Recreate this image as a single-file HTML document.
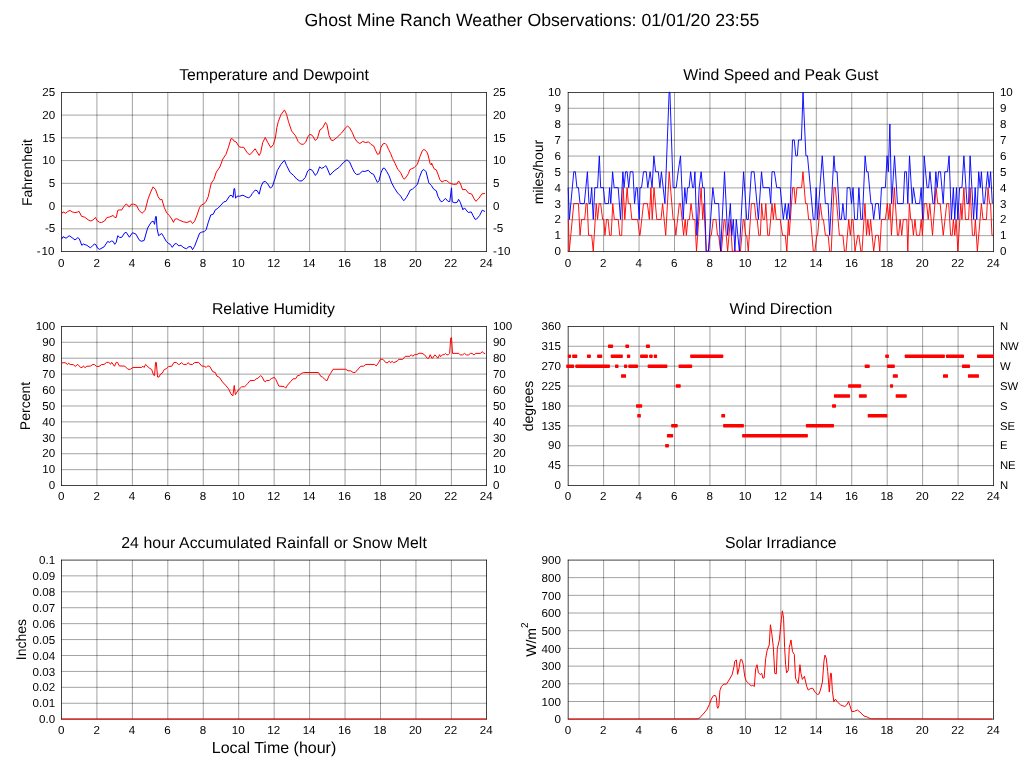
<!DOCTYPE html>
<html><head><meta charset="utf-8"><title>Ghost Mine Ranch Weather Observations</title>
<style>html,body{margin:0;padding:0;background:#fff}body{width:1027px;height:772px;overflow:hidden;font-family:"Liberation Sans", sans-serif}svg{display:block;will-change:transform}</style></head>
<body>
<svg width="1027" height="772" viewBox="0 0 1027 772" font-family='"Liberation Sans", sans-serif' fill="#000" text-rendering="geometricPrecision">
<rect width="1027" height="772" fill="#fff"/>
<text x="532" y="25.8" font-size="17.7" text-anchor="middle">Ghost Mine Ranch Weather Observations: 01/01/20 23:55</text>
<path d="M96.91 92.5V251.5M132.36 92.5V251.5M167.8 92.5V251.5M203.25 92.5V251.5M238.7 92.5V251.5M274.15 92.5V251.5M309.6 92.5V251.5M345.04 92.5V251.5M380.49 92.5V251.5M415.94 92.5V251.5M451.39 92.5V251.5M61.5 228.84H486.5M61.5 206.09H486.5M61.5 183.34H486.5M61.5 160.6H486.5M61.5 137.85H486.5M61.5 115.1H486.5" stroke="#000" stroke-width="0.37" fill="none"/>
<path d="M61.13 92.5H486.87M61.13 251.5H486.87M61.5 92.13V251.87M486.5 92.13V251.87" stroke="#000" stroke-width="0.74" fill="none"/>
<path d="M61.54 213.92L63.06 211.9L65.59 213.22L67.62 211.59L69.95 210.38L72.18 211.9L74.71 212.61L77.24 212.2L79.06 211.39L81.49 216.25L84.84 217.27L88.38 220L90.91 221.01L92.94 220L95.47 217.47L96.99 220.51L99.52 222.33L101.54 222.53L104.58 221.01L106.81 217.67L109.65 216.96L113.19 215.44L114.71 217.47L116.23 217.47L117.75 210.38L119.77 209.87L121.59 210.08L123.82 206.53L126.35 203.8L129.39 207.14L130.91 204.51L133.44 204.1L136.48 205.32L139.01 210.38L142.05 213.22L145.09 210.38L148.13 198.73L150.66 192.15L153.04 186.89L155.57 189.62L158.1 196.71L160.13 199.75L161.95 199.44L164.18 207.34L166.71 212.91L169.24 215.44L171.77 218.99L173.49 222.33L174.81 219.29L176.84 218.68L179.37 220.2L183.42 221.82L186.96 222.53L190.51 220.81L192.53 223.54L194.56 221.32L197.09 214.94L199.62 207.34L201.65 204.81L203.67 204.1L206.2 201.27L208.23 196.71L209.75 189.62L211.27 183.16L213.8 179.62L216.33 172.03L219.87 166.96L222.91 158.86L225.95 154.3L228.48 147.22L231.01 138.61L232.53 138.91L234.05 141.14L236.08 141.95L239.11 146.71L241.65 147.42L243.67 147.22L247.22 152.78L249.24 154.51L250.56 154.18L255.11 148.81L259.16 155.49L260.68 152.66L262.71 142.53L265.24 137.47L267.77 142.53L270.81 147.59L273.34 144.56L275.37 137.97L276.89 127.34L278.41 121.27L280.94 114.68L284.48 109.92L286.51 114.18L288.53 121.77L291.57 130.89L295.62 135.95L298.15 141.52L300.68 144.05L303.22 144.35L305.75 142.03L307.77 136.96L309.8 134.23L312.33 135.44L315.37 140.51L317.39 138.48L319.92 129.87L322.46 128.15L325.49 122.48L327.01 124.81L329.04 135.44L331.06 140L333.09 140.51L337.14 137.27L341.7 132.91L345.75 127.54L347.57 126.14L349.59 127.66L352.13 132.22L354.66 138.29L357.19 141.84L359.72 143.56L362.76 141.53L365.8 142.54L368.53 141.84L370.86 144.37L373.59 145.89L375.42 149.94L377.44 154.29L379.27 153.78L380.99 147.41L383.01 143.86L385.04 143.35L386.56 144.87L388.58 149.43L390.61 153.48L392.63 158.54L395.16 163.61L397.7 169.18L400.73 172.72L402.76 177.28L404.28 179.3L406.3 176.97L408.33 173.73L409.85 169.68L411.87 168.67L414.41 167.46L417.44 164.11L419.97 156.52L422.51 150.44L424.03 149.43L426.56 151.46L428.08 155L430.1 163.61L431.39 165L431.62 163.1L434.05 168.8L436.33 169.94L438.23 174.87L439.75 179.43L442.03 182.09L444.3 180.57L446.58 180.57L449.62 183.08L453.42 184.37L456.84 184.14L458.58 180.95L460.25 183.23L462.53 189.68L465.57 189.46L468.61 193.25L471.65 194.01L473.92 198.42L475.82 201.3L478.86 198.42L481.9 193.86L484.94 193.48" stroke="#ff0000" stroke-width="1.0" fill="none" stroke-linejoin="miter" stroke-miterlimit="6"/>
<path d="M61.54 239.24L63.06 236.71L66.1 238.23L69.14 235.7L72.18 237.72L75.01 239.95L77.75 237.72L79.27 238.73L81.8 245.32L83.32 244L86.86 245.32L90.41 247.85L92.94 245.32L94.46 244.1L95.97 244.81L97.49 248.05L99.52 249.37L104.08 246.84L107.62 241.47L109.65 242.28L111.67 240.96L113.19 241.47L114.71 244.3L116.23 242.28L117.75 235.7L119.77 237.52L121.8 237.22L124.84 232.66L126.35 232.46L129.39 237.22L132.43 232.66L135.97 234.18L139.01 239.75L141.04 241.27L144.08 240.56L147.62 228.1L150 224.05L152.03 221.32L153.54 221.52L154.56 224.35L155.57 216.66L156.28 216.46L157.09 228.61L158.61 235.7L161.65 233.47L163.67 236.71L166.2 241.27L168.23 243.29L170.25 244.3L172.28 247.34L174.81 243.8L176.33 243.59L178.86 245.82L180.89 245.32L183.92 247.85L186.46 248.66L188.99 246.63L191.01 246.63L192.53 249.67L194.56 246.33L197.09 239.75L199.62 233.16L201.65 232.15L204.18 231.65L206.2 229.62L208.23 222.53L210.76 214.94L213.29 214.23L215.32 209.87L217.85 208.35L220.89 205.11L223.92 201.77L225.95 201.47L230 195.39L232.03 195.7L233.04 197.42L234.05 188.61L234.66 188.61L235.57 198.23L237.09 196.2L239.62 196.2L242.96 195.19L246.2 197.01L248.73 197.72L250.76 196.2L252.08 193.67L255.11 190.13L257.14 190.63L259.16 194.18L261.19 186.08L263.22 182.03L265.24 181.32L267.77 184.05L270.3 188.1L272.33 186.58L274.86 178.99L277.39 170.38L280.94 164.3L284.48 160.25L286.51 165.32L290.05 172.41L293.59 175.44L296.63 178.99L299.67 181.01L302.2 180.81L305.24 177.47L307.77 170.89L309.8 169.16L312.33 170.38L315.37 175.44L317.39 172.91L319.62 166.84L321.44 168.35L323.97 167.34L325.7 165.62L327.01 167.85L330.05 175.14L334.1 170.89L339.16 167.34L343.22 162.78L346.25 160.25L347.06 159.92L349.59 161.95L352.13 167.72L354.66 172.78L356.68 174.51L359.22 174.1L362.25 171.27L364.78 171.47L368.33 170.25L370.86 173.09L373.59 174.3L375.42 178.35L377.44 182.41L378.96 180.89L380.99 172.78L383.01 168.23L384.53 168.23L386.56 171.27L389.09 175.82L391.62 182.91L394.66 188.48L397.7 193.04L400.73 196.08L402.76 199.62L403.97 200.63L406.3 197.59L408.33 194.05L410.35 190L412.38 189.29L415.42 186.25L417.44 184.43L419.47 177.34L422 170.76L423.82 169.44L426.05 171.77L428.58 181.9L428.73 182.85L431.39 185.51L433.67 189.15L436.33 190.82L437.85 196.14L440.51 201.08L442.03 201.84L445.44 198.42L448.1 201.46L449.77 201.46L451.52 187.78L452.28 201.84L454.94 202.82L457.22 202.22L458.58 199.33L460.25 202.22L462.91 209.81L464.43 207.91L468.23 212.47L471.27 211.94L472.78 215.13L475.06 219.3L476.58 219.08L479.62 215.51L482.28 210.19L484.94 211.48" stroke="#0000ff" stroke-width="1.0" fill="none" stroke-linejoin="miter" stroke-miterlimit="6"/>
<text x="274" y="79.9" font-size="15.8" text-anchor="middle">Temperature and Dewpoint</text>
<text x="61.2" y="266.7" font-size="11.6" text-anchor="middle">0</text>
<text x="96.62" y="266.7" font-size="11.6" text-anchor="middle">2</text>
<text x="132.03" y="266.7" font-size="11.6" text-anchor="middle">4</text>
<text x="167.45" y="266.7" font-size="11.6" text-anchor="middle">6</text>
<text x="202.87" y="266.7" font-size="11.6" text-anchor="middle">8</text>
<text x="238.28" y="266.7" font-size="11.6" text-anchor="middle">10</text>
<text x="273.7" y="266.7" font-size="11.6" text-anchor="middle">12</text>
<text x="309.12" y="266.7" font-size="11.6" text-anchor="middle">14</text>
<text x="344.53" y="266.7" font-size="11.6" text-anchor="middle">16</text>
<text x="379.95" y="266.7" font-size="11.6" text-anchor="middle">18</text>
<text x="415.37" y="266.7" font-size="11.6" text-anchor="middle">20</text>
<text x="450.78" y="266.7" font-size="11.6" text-anchor="middle">22</text>
<text x="486.2" y="266.7" font-size="11.6" text-anchor="middle">24</text>
<text x="55.2" y="255.2" font-size="11.6" text-anchor="end"><tspan dx="-0.8">-</tspan><tspan dx="0.8">10</tspan></text>
<text x="55.2" y="232.49" font-size="11.6" text-anchor="end">-5</text>
<text x="55.2" y="209.77" font-size="11.6" text-anchor="end">0</text>
<text x="55.2" y="187.06" font-size="11.6" text-anchor="end">5</text>
<text x="55.2" y="164.34" font-size="11.6" text-anchor="end">10</text>
<text x="55.2" y="141.63" font-size="11.6" text-anchor="end">15</text>
<text x="55.2" y="118.91" font-size="11.6" text-anchor="end">20</text>
<text x="55.2" y="96.2" font-size="11.6" text-anchor="end">25</text>
<text x="492.9" y="255.2" font-size="11.6">-<tspan dx="0.8">10</tspan></text>
<text x="492.9" y="232.49" font-size="11.6">-5</text>
<text x="492.9" y="209.77" font-size="11.6">0</text>
<text x="492.9" y="187.06" font-size="11.6">5</text>
<text x="492.9" y="164.34" font-size="11.6">10</text>
<text x="492.9" y="141.63" font-size="11.6">15</text>
<text x="492.9" y="118.91" font-size="11.6">20</text>
<text x="492.9" y="96.2" font-size="11.6">25</text>
<text transform="translate(31.7 172.6) rotate(-90)" font-size="14.0" text-anchor="middle">Fahrenheit</text>
<path d="M603.61 92.5V251.5M639.06 92.5V251.5M674.5 92.5V251.5M709.95 92.5V251.5M745.4 92.5V251.5M780.85 92.5V251.5M816.3 92.5V251.5M851.74 92.5V251.5M887.19 92.5V251.5M922.64 92.5V251.5M958.09 92.5V251.5M568.2 235.67H993.5M568.2 219.74H993.5M568.2 203.82H993.5M568.2 187.89H993.5M568.2 171.97H993.5M568.2 156.05H993.5M568.2 140.12H993.5M568.2 124.2H993.5M568.2 108.27H993.5" stroke="#000" stroke-width="0.37" fill="none"/>
<path d="M567.83 92.5H993.87M567.83 251.5H993.87M568.2 92.13V251.87M993.5 92.13V251.87" stroke="#000" stroke-width="0.74" fill="none"/>
<path d="M568.34 219.45L569.27 251.25L573.79 203.55L578.46 203.55L580.02 235.35L581.58 219.45L584.7 219.45L586.1 203.55L587.19 203.55L588.59 235.35L591.71 235.35L593.26 251.25L596.22 203.55L597.55 219.45L599.11 203.55L600.66 203.55L602.61 219.45L603.78 219.45L604.95 235.35L606.51 219.45L608.06 219.45L609.62 235.35L611.18 235.35L612.74 203.55L614.3 219.45L618.19 219.45L619.75 235.35L621.7 235.35L623.25 187.65L624.81 219.45L627.15 187.65L628.32 203.55L630.26 203.55L631.82 219.45L637.67 219.45L639.61 235.35L640 235.35L643.51 203.55L647.4 203.55L649.35 219.45L650.91 187.65L652.23 219.45L654.02 187.65L656.75 219.45L661.03 219.45L662.59 203.55L665.71 235.35L669.21 171.75L673.11 219.45L674.27 219.45L675.83 235.35L679.34 203.55L680.51 203.55L683.62 235.35L685.18 219.45L686.35 235.35L687.91 219.45L689.46 219.45L691.02 203.55L692.97 219.45L694.92 219.45L696.48 251.25L701.15 187.65L702.71 219.45L703.88 203.55L706.21 251.25L708.55 251.25L710.11 235.35L711.28 235.35L713.22 219.45L715.95 219.45L717.51 235.35L718.67 235.35L720.62 251.25L721.4 251.25L724.13 219.45L724.91 219.45L727.63 251.25L730.36 219.45L732.31 251.25L740.48 251.25L743.21 219.45L743.99 219.45L745.55 235.35L746.72 235.35L748.27 251.25L751.39 203.55L754.51 203.55L756.06 219.45L757.23 219.45L758.79 235.35L760.35 235.35L761.67 203.55L763.07 219.45L764.63 219.45L765.8 203.55L767.75 235.35L769.31 235.35L772.03 203.55L773.36 219.45L774.76 203.55L776.32 219.45L780.21 219.45L782.55 235.35L785.28 235.35L786.83 251.25L788.39 219.45L789.17 235.35L792.67 187.65L794.08 187.65L795.4 203.55L796.96 187.65L801.63 187.65L802.96 171.75L805.53 203.55L807.08 203.55L808.64 219.45L810.59 219.45L813.32 251.25L814.87 251.25L816.82 235.35L817.6 235.35L820.33 203.55L822.27 219.45L823.44 219.45L825.39 235.35L828.12 235.35L829.67 251.25L831.23 251.25L833.96 187.65L835.36 187.65L839.41 235.35L842.92 235.35L844.48 251.25L846.03 251.25L848.76 219.45L850.32 235.35L851.88 219.45L853.04 219.45L854.99 251.25L857.72 235.35L858.89 235.35L860.83 251.25L862 251.25L864.96 203.55L866.52 235.35L867.84 219.45L869.4 235.35L870.57 219.45L873.68 251.25L875.63 235.35L878.36 235.35L879.76 251.25L881.47 219.45L885.37 219.45L887.32 203.55L888.87 219.45L890.04 203.55L891.44 235.35L894.33 187.65L897.44 235.35L898.61 235.35L900.17 219.45L901.73 235.35L903.29 219.45L906.79 219.45L907.8 251.25L909.36 203.55L910.69 219.45L911.85 219.45L913.41 235.35L914.97 219.45L916.53 235.35L919.64 235.35L921.2 219.45L922.37 235.35L924.32 203.55L926.65 203.55L928.21 219.45L929.77 203.55L932.5 235.35L936.08 187.65L937.79 203.55L940.13 203.55L943.24 235.35L946.75 203.55L948.7 203.55L950.64 235.35L952.2 235.35L953.37 219.45L954.77 235.35L956.1 219.45L957.89 251.25L960.77 203.55L961.94 219.45L963.89 187.65L965.44 219.45L968.56 219.45L970.12 187.65L972.45 235.35L974.4 235.35L975.34 219.45L977.36 251.25L981.41 203.55L982.97 219.45L986.48 219.45L988.03 187.65L989.59 203.55L990.6 203.55L991.93 235.35L992.94 235.35" stroke="#ff0000" stroke-width="0.92" fill="none" stroke-linejoin="miter" stroke-miterlimit="6"/>
<path d="M568.18 187.65L569.35 219.45L573.79 171.75L575.35 171.75L576.91 187.65L578.46 187.65L580.02 203.55L584.31 203.55L587.42 171.75L588.98 203.55L590.3 203.55L591.71 187.65L593.26 219.45L594.82 187.65L597.55 187.65L599.34 155.85L600.66 187.65L603.39 187.65L604.95 203.55L608.45 203.55L609.62 187.65L610.79 203.55L612.58 171.75L614.14 187.65L618.19 187.65L620.53 219.45L622.86 171.75L624.03 187.65L625.59 171.75L627.15 171.75L628.71 187.65L630.26 171.75L632.99 171.75L634.55 203.55L636.11 187.65L637.28 187.65L639.22 219.45L640 187.65L641.56 187.65L643.51 171.75L646.23 171.75L647.79 187.65L650.13 171.75L652.07 187.65L653.87 155.85L655.58 171.75L658.31 171.75L659.86 187.65L661.42 171.75L664.93 203.55L669.13 92.25L669.91 92.25L673.11 187.65L676.22 187.65L678.17 171.75L680.51 155.85L683.23 219.45L684.79 187.65L686.35 203.55L687.52 187.65L689.07 187.65L690.63 171.75L692.58 187.65L693.75 187.65L694.92 171.75L696.86 235.35L699.2 187.65L701.15 171.75L702.71 187.65L704.26 187.65L706.21 251.25L708.39 251.25L712.83 187.65L714.78 203.55L718.67 203.55L720.62 251.25L724.52 171.75L727.63 235.35L730.36 203.55L731.76 235.35L733.32 219.45L734.88 251.25L736.28 219.45L739.39 251.25L743.6 171.75L746.72 219.45L748.27 219.45L751.39 171.75L754.12 171.75L758.4 219.45L761.52 171.75L763.07 187.65L769.31 187.65L770.71 203.55L772.03 171.75L774.37 171.75L776.71 187.65L780.21 187.65L783.33 219.45L785.28 203.55L786.83 219.45L788.39 203.55L789.72 219.45L792.52 139.95L794.23 139.95L795.79 155.85L797.35 155.85L798.52 139.95L801.4 139.95L803.03 92.25L805.92 155.85L807.47 155.85L813.32 219.45L814.87 219.45L816.2 187.65L817.6 219.45L822.27 155.85L825.39 203.55L828.12 203.55L829.67 235.35L833.96 155.85L835.13 171.75L837.07 171.75L839.8 219.45L841.36 219.45L842.92 203.55L844.48 219.45L846.03 219.45L847.2 187.65L849.93 187.65L851.49 203.55L853.04 187.65L854.6 219.45L857.33 219.45L858.89 187.65L860.83 219.45L862.39 219.45L865.12 155.85L866.67 171.75L868.08 171.75L870.96 203.55L872.13 203.55L873.68 219.45L875.63 203.55L878.36 203.55L879.76 219.45L881.47 187.65L885.37 187.65L887.08 155.85L888.33 171.75L889.89 124.05L891.6 203.55L894.56 155.85L897.44 203.55L903.29 203.55L904.69 171.75L906.4 171.75L907.8 203.55L909.52 155.85L912.24 203.55L913.41 187.65L915.75 203.55L919.64 203.55L921.2 187.65L922.6 219.45L924.16 155.85L927.04 187.65L928.6 187.65L929.93 171.75L932.96 203.55L934.28 203.55L935.84 171.75L937.17 187.65L938.57 171.75L940.52 171.75L943.24 203.55L944.8 171.75L947.53 171.75L949.08 155.85L951.42 219.45L953.37 187.65L954.77 219.45L956.48 187.65L957.89 219.45L959.6 187.65L961.94 187.65L963.89 155.85L967 203.55L968.56 203.55L970.12 155.85L973.62 219.45L975.18 187.65L976.74 219.45L978.69 171.75L980.24 187.65L981.41 171.75L983.36 203.55L984.53 203.55L987.64 171.75L989.2 187.65L990.6 171.75L992.32 203.55" stroke="#0000ff" stroke-width="0.92" fill="none" stroke-linejoin="miter" stroke-miterlimit="6"/>
<text x="780.85" y="79.9" font-size="15.8" text-anchor="middle">Wind Speed and Peak Gust</text>
<text x="567.9" y="266.7" font-size="11.6" text-anchor="middle">0</text>
<text x="603.34" y="266.7" font-size="11.6" text-anchor="middle">2</text>
<text x="638.78" y="266.7" font-size="11.6" text-anchor="middle">4</text>
<text x="674.23" y="266.7" font-size="11.6" text-anchor="middle">6</text>
<text x="709.67" y="266.7" font-size="11.6" text-anchor="middle">8</text>
<text x="745.11" y="266.7" font-size="11.6" text-anchor="middle">10</text>
<text x="780.55" y="266.7" font-size="11.6" text-anchor="middle">12</text>
<text x="815.99" y="266.7" font-size="11.6" text-anchor="middle">14</text>
<text x="851.43" y="266.7" font-size="11.6" text-anchor="middle">16</text>
<text x="886.88" y="266.7" font-size="11.6" text-anchor="middle">18</text>
<text x="922.32" y="266.7" font-size="11.6" text-anchor="middle">20</text>
<text x="957.76" y="266.7" font-size="11.6" text-anchor="middle">22</text>
<text x="993.2" y="266.7" font-size="11.6" text-anchor="middle">24</text>
<text x="560.9" y="255.2" font-size="11.6" text-anchor="end">0</text>
<text x="560.9" y="239.3" font-size="11.6" text-anchor="end">1</text>
<text x="560.9" y="223.4" font-size="11.6" text-anchor="end">2</text>
<text x="560.9" y="207.5" font-size="11.6" text-anchor="end">3</text>
<text x="560.9" y="191.6" font-size="11.6" text-anchor="end">4</text>
<text x="560.9" y="175.7" font-size="11.6" text-anchor="end">5</text>
<text x="560.9" y="159.8" font-size="11.6" text-anchor="end">6</text>
<text x="560.9" y="143.9" font-size="11.6" text-anchor="end">7</text>
<text x="560.9" y="128" font-size="11.6" text-anchor="end">8</text>
<text x="560.9" y="112.1" font-size="11.6" text-anchor="end">9</text>
<text x="560.9" y="96.2" font-size="11.6" text-anchor="end">10</text>
<text x="999.9" y="255.2" font-size="11.6">0</text>
<text x="999.9" y="239.3" font-size="11.6">1</text>
<text x="999.9" y="223.4" font-size="11.6">2</text>
<text x="999.9" y="207.5" font-size="11.6">3</text>
<text x="999.9" y="191.6" font-size="11.6">4</text>
<text x="999.9" y="175.7" font-size="11.6">5</text>
<text x="999.9" y="159.8" font-size="11.6">6</text>
<text x="999.9" y="143.9" font-size="11.6">7</text>
<text x="999.9" y="128" font-size="11.6">8</text>
<text x="999.9" y="112.1" font-size="11.6">9</text>
<text x="999.9" y="96.2" font-size="11.6">10</text>
<text transform="translate(542.8 172) rotate(-90)" font-size="14.0" text-anchor="middle">miles/hour</text>
<path d="M96.91 326.5V485.5M132.36 326.5V485.5M167.8 326.5V485.5M203.25 326.5V485.5M238.7 326.5V485.5M274.15 326.5V485.5M309.6 326.5V485.5M345.04 326.5V485.5M380.49 326.5V485.5M415.94 326.5V485.5M451.39 326.5V485.5M61.5 469.67H486.5M61.5 453.74H486.5M61.5 437.82H486.5M61.5 421.89H486.5M61.5 405.97H486.5M61.5 390.05H486.5M61.5 374.12H486.5M61.5 358.2H486.5M61.5 342.27H486.5" stroke="#000" stroke-width="0.37" fill="none"/>
<path d="M61.13 326.5H486.87M61.13 485.5H486.87M61.5 326.13V485.87M486.5 326.13V485.87" stroke="#000" stroke-width="0.74" fill="none"/>
<path d="M61.54 362.89L65.09 362.68L67.62 364.41L68.63 363.19L70.15 364.41L73.19 364.61L75.22 366.43L77.75 364.41L80.78 367.65L82.3 367.44L83.32 365.92L85.14 367.65L86.86 366.23L90.41 366.13L92.94 364.41L94.46 364.61L96.48 366.43L99.01 366.43L101.54 364.61L104.08 364.41L106.61 362.38L108.63 362.38L110.66 364.2L111.67 362.38L114.51 366.23L116.23 362.38L117.54 362.38L119.27 365.92L124.84 366.13L127.87 369.27L130.41 369.27L132.94 367.44L141.54 367.44L143.06 366.23L144.08 367.44L145.59 364.41L149.14 367.95L151.67 369.47L153.54 375.04L154.56 375.54L155.57 362.38L156.28 362.38L157.59 377.06L158.91 377.06L160.63 374.03L162.15 373.32L164.18 369.67L166.71 368.46L168.73 366.43L171.77 366.23L173.8 362.58L176.33 362.38L178.35 364.41L179.87 364.2L181.39 362.58L183.42 364.41L186.46 364.41L188.28 362.58L189.7 364.41L192.53 364.41L194.56 362.58L198.61 362.38L201.65 365.92L204.68 366.43L206.2 367.44L207.72 365.92L209.75 366.43L212.78 371.7L215.32 372.51L216.84 376.05L219.37 377.37L222.41 381.82L225.44 385.16L228.48 388.71L231.01 393.97L232.84 396L234.25 385.47L235.37 394.78L238.1 390.23L241.65 386.89L244.68 386.68L247.72 383.65L250.05 380.61L254.61 380.41L256.13 378.78L258.15 378.08L260.68 375.54L262.2 377.06L264.23 381.11L265.24 381.82L266.25 380.61L269.29 380.41L271.32 378.58L274.35 377.37L275.87 379.59L278.91 386.18L283.97 386.48L285.7 388.2L287.52 385.16L290.56 381.62L293.09 378.78L295.62 378.78L297.65 375.54L299.16 375.54L301.19 373.52L303.72 372.51L318.41 372.51L320.94 376.56L322.46 377.06L326 380.41L327.22 380.41L328.84 376.05L330.56 373.52L333.09 369.27L345.75 369.27L348.08 370.78L350.61 370.78L353.14 372.51L355.16 372.51L360.73 366.23L363.77 366.23L365.8 364.41L374.41 364.41L376.23 365.92L378.46 362.89L380.48 359.14L383.01 359.34L385.54 362.38L387.06 362.89L389.39 361.16L390.61 362.68L392.13 361.37L393.65 362.68L397.19 361.16L398.71 359.34L402.76 359.34L405.29 356.3L409.85 356.3L411.37 354.78L412.68 356.3L414.41 354.78L416.94 354.58L418.96 353.27L422 353.27L424.53 354.78L427.22 358.25L428.73 358.25L430.25 354.68L431.77 358.1L432.53 358.25L434.81 354.91L436.33 356.2L437.85 358.25L439.59 354.68L440.51 356.58L442.78 354.68L444.3 354.68L445.44 353.39L446.96 354.91L448.48 354.68L449.62 353.39L450.76 337.97L451.52 337.59L452.51 353.39L458.73 353.39L460.25 354.91L462.53 354.91L464.43 353.39L466.33 354.91L468.61 354.91L470.51 353.39L472.03 353.39L473.92 354.91L475.82 353.39L480.38 353.39L482.43 351.65L483.8 353.39L485.16 353.54" stroke="#ff0000" stroke-width="1.0" fill="none" stroke-linejoin="miter" stroke-miterlimit="6"/>
<text x="273.4" y="313.9" font-size="15.8" text-anchor="middle">Relative Humidity</text>
<text x="61.2" y="500.3" font-size="11.6" text-anchor="middle">0</text>
<text x="96.62" y="500.3" font-size="11.6" text-anchor="middle">2</text>
<text x="132.03" y="500.3" font-size="11.6" text-anchor="middle">4</text>
<text x="167.45" y="500.3" font-size="11.6" text-anchor="middle">6</text>
<text x="202.87" y="500.3" font-size="11.6" text-anchor="middle">8</text>
<text x="238.28" y="500.3" font-size="11.6" text-anchor="middle">10</text>
<text x="273.7" y="500.3" font-size="11.6" text-anchor="middle">12</text>
<text x="309.12" y="500.3" font-size="11.6" text-anchor="middle">14</text>
<text x="344.53" y="500.3" font-size="11.6" text-anchor="middle">16</text>
<text x="379.95" y="500.3" font-size="11.6" text-anchor="middle">18</text>
<text x="415.37" y="500.3" font-size="11.6" text-anchor="middle">20</text>
<text x="450.78" y="500.3" font-size="11.6" text-anchor="middle">22</text>
<text x="486.2" y="500.3" font-size="11.6" text-anchor="middle">24</text>
<text x="55.2" y="489.2" font-size="11.6" text-anchor="end">0</text>
<text x="55.2" y="473.3" font-size="11.6" text-anchor="end">10</text>
<text x="55.2" y="457.4" font-size="11.6" text-anchor="end">20</text>
<text x="55.2" y="441.5" font-size="11.6" text-anchor="end">30</text>
<text x="55.2" y="425.6" font-size="11.6" text-anchor="end">40</text>
<text x="55.2" y="409.7" font-size="11.6" text-anchor="end">50</text>
<text x="55.2" y="393.8" font-size="11.6" text-anchor="end">60</text>
<text x="55.2" y="377.9" font-size="11.6" text-anchor="end">70</text>
<text x="55.2" y="362" font-size="11.6" text-anchor="end">80</text>
<text x="55.2" y="346.1" font-size="11.6" text-anchor="end">90</text>
<text x="55.2" y="330.2" font-size="11.6" text-anchor="end">100</text>
<text x="492.9" y="489.2" font-size="11.6">0</text>
<text x="492.9" y="473.3" font-size="11.6">10</text>
<text x="492.9" y="457.4" font-size="11.6">20</text>
<text x="492.9" y="441.5" font-size="11.6">30</text>
<text x="492.9" y="425.6" font-size="11.6">40</text>
<text x="492.9" y="409.7" font-size="11.6">50</text>
<text x="492.9" y="393.8" font-size="11.6">60</text>
<text x="492.9" y="377.9" font-size="11.6">70</text>
<text x="492.9" y="362" font-size="11.6">80</text>
<text x="492.9" y="346.1" font-size="11.6">90</text>
<text x="492.9" y="330.2" font-size="11.6">100</text>
<text transform="translate(29.8 406) rotate(-90)" font-size="14.0" text-anchor="middle">Percent</text>
<path d="M603.61 326.5V485.5M639.06 326.5V485.5M674.5 326.5V485.5M709.95 326.5V485.5M745.4 326.5V485.5M780.85 326.5V485.5M816.3 326.5V485.5M851.74 326.5V485.5M887.19 326.5V485.5M922.64 326.5V485.5M958.09 326.5V485.5M568.2 465.68H993.5M568.2 445.78H993.5M568.2 425.88H993.5M568.2 405.97H993.5M568.2 386.06H993.5M568.2 366.16H993.5M568.2 346.25H993.5" stroke="#000" stroke-width="0.37" fill="none"/>
<path d="M567.83 326.5H993.87M567.83 485.5H993.87M568.2 326.13V485.87M993.5 326.13V485.87" stroke="#000" stroke-width="0.74" fill="none"/>
<rect x="608.01" y="344.52" width="5.06" height="3.5" rx="0.7" fill="#ff0000"/>
<rect x="625.38" y="344.52" width="3.66" height="3.5" rx="0.7" fill="#ff0000"/>
<rect x="567.89" y="354.46" width="3.12" height="3.5" rx="0.7" fill="#ff0000"/>
<rect x="572.18" y="354.46" width="5.06" height="3.5" rx="0.7" fill="#ff0000"/>
<rect x="586.98" y="354.46" width="3.89" height="3.5" rx="0.7" fill="#ff0000"/>
<rect x="597.11" y="354.46" width="5.06" height="3.5" rx="0.7" fill="#ff0000"/>
<rect x="610.74" y="354.46" width="12.07" height="3.5" rx="0.7" fill="#ff0000"/>
<rect x="626.94" y="354.46" width="3.27" height="3.5" rx="0.7" fill="#ff0000"/>
<rect x="566.18" y="364.4" width="7.95" height="3.5" rx="0.7" fill="#ff0000"/>
<rect x="575.3" y="364.4" width="34.66" height="3.5" rx="0.7" fill="#ff0000"/>
<rect x="615.02" y="364.4" width="3.51" height="3.5" rx="0.7" fill="#ff0000"/>
<rect x="623.98" y="364.4" width="3.27" height="3.5" rx="0.7" fill="#ff0000"/>
<rect x="628.26" y="364.4" width="9.74" height="3.5" rx="0.7" fill="#ff0000"/>
<rect x="621.02" y="374.34" width="5.06" height="3.5" rx="0.7" fill="#ff0000"/>
<rect x="645.92" y="344.52" width="4.05" height="3.5" rx="0.7" fill="#ff0000"/>
<rect x="640.05" y="354.46" width="7.9" height="3.5" rx="0.7" fill="#ff0000"/>
<rect x="649.16" y="354.46" width="3.55" height="3.5" rx="0.7" fill="#ff0000"/>
<rect x="653.72" y="354.46" width="3.34" height="3.5" rx="0.7" fill="#ff0000"/>
<rect x="690.18" y="354.46" width="33.11" height="3.5" rx="0.7" fill="#ff0000"/>
<rect x="647.65" y="364.4" width="19.74" height="3.5" rx="0.7" fill="#ff0000"/>
<rect x="678.53" y="364.4" width="13.67" height="3.5" rx="0.7" fill="#ff0000"/>
<rect x="675.7" y="384.27" width="5.06" height="3.5" rx="0.7" fill="#ff0000"/>
<rect x="636" y="404.15" width="6.2" height="3.5" rx="0.7" fill="#ff0000"/>
<rect x="637.22" y="414.09" width="3.64" height="3.5" rx="0.7" fill="#ff0000"/>
<rect x="721.27" y="414.09" width="3.84" height="3.5" rx="0.7" fill="#ff0000"/>
<rect x="671.14" y="424.02" width="6.58" height="3.5" rx="0.7" fill="#ff0000"/>
<rect x="723.1" y="424.02" width="20.8" height="3.5" rx="0.7" fill="#ff0000"/>
<rect x="666.89" y="433.96" width="6.27" height="3.5" rx="0.7" fill="#ff0000"/>
<rect x="665.16" y="443.9" width="3.75" height="3.5" rx="0.7" fill="#ff0000"/>
<rect x="805.87" y="424.02" width="28.16" height="3.5" rx="0.7" fill="#ff0000"/>
<rect x="742.08" y="433.96" width="65.82" height="3.5" rx="0.7" fill="#ff0000"/>
<rect x="832" y="404.15" width="4.05" height="3.5" rx="0.7" fill="#ff0000"/>
<rect x="885.22" y="354.46" width="3.74" height="3.5" rx="0.7" fill="#ff0000"/>
<rect x="904.7" y="354.46" width="40.2" height="3.5" rx="0.7" fill="#ff0000"/>
<rect x="864.66" y="364.4" width="5.06" height="3.5" rx="0.7" fill="#ff0000"/>
<rect x="887.04" y="364.4" width="7.8" height="3.5" rx="0.7" fill="#ff0000"/>
<rect x="892.81" y="374.34" width="5.06" height="3.5" rx="0.7" fill="#ff0000"/>
<rect x="848.05" y="384.27" width="13.17" height="3.5" rx="0.7" fill="#ff0000"/>
<rect x="889.97" y="384.27" width="3.14" height="3.5" rx="0.7" fill="#ff0000"/>
<rect x="833.87" y="394.21" width="16.21" height="3.5" rx="0.7" fill="#ff0000"/>
<rect x="858.89" y="394.21" width="7.89" height="3.5" rx="0.7" fill="#ff0000"/>
<rect x="895.65" y="394.21" width="11.13" height="3.5" rx="0.7" fill="#ff0000"/>
<rect x="867.7" y="414.09" width="19.74" height="3.5" rx="0.7" fill="#ff0000"/>
<rect x="945.94" y="354.46" width="18.07" height="3.5" rx="0.7" fill="#ff0000"/>
<rect x="977.02" y="354.46" width="16.98" height="3.5" rx="0.7" fill="#ff0000"/>
<rect x="961.91" y="364.4" width="8.1" height="3.5" rx="0.7" fill="#ff0000"/>
<rect x="942.98" y="374.34" width="5.06" height="3.5" rx="0.7" fill="#ff0000"/>
<rect x="967.91" y="374.34" width="11.06" height="3.5" rx="0.7" fill="#ff0000"/>
<text x="780.85" y="313.9" font-size="15.8" text-anchor="middle">Wind Direction</text>
<text x="567.9" y="500.3" font-size="11.6" text-anchor="middle">0</text>
<text x="603.34" y="500.3" font-size="11.6" text-anchor="middle">2</text>
<text x="638.78" y="500.3" font-size="11.6" text-anchor="middle">4</text>
<text x="674.23" y="500.3" font-size="11.6" text-anchor="middle">6</text>
<text x="709.67" y="500.3" font-size="11.6" text-anchor="middle">8</text>
<text x="745.11" y="500.3" font-size="11.6" text-anchor="middle">10</text>
<text x="780.55" y="500.3" font-size="11.6" text-anchor="middle">12</text>
<text x="815.99" y="500.3" font-size="11.6" text-anchor="middle">14</text>
<text x="851.43" y="500.3" font-size="11.6" text-anchor="middle">16</text>
<text x="886.88" y="500.3" font-size="11.6" text-anchor="middle">18</text>
<text x="922.32" y="500.3" font-size="11.6" text-anchor="middle">20</text>
<text x="957.76" y="500.3" font-size="11.6" text-anchor="middle">22</text>
<text x="993.2" y="500.3" font-size="11.6" text-anchor="middle">24</text>
<text x="560.9" y="489.2" font-size="11.6" text-anchor="end">0</text>
<text x="560.9" y="469.32" font-size="11.6" text-anchor="end">45</text>
<text x="560.9" y="449.45" font-size="11.6" text-anchor="end">90</text>
<text x="560.9" y="429.57" font-size="11.6" text-anchor="end">135</text>
<text x="560.9" y="409.7" font-size="11.6" text-anchor="end">180</text>
<text x="560.9" y="389.82" font-size="11.6" text-anchor="end">225</text>
<text x="560.9" y="369.95" font-size="11.6" text-anchor="end">270</text>
<text x="560.9" y="350.07" font-size="11.6" text-anchor="end">315</text>
<text x="560.9" y="330.2" font-size="11.6" text-anchor="end">360</text>
<text x="999.9" y="489.2" font-size="11.3">N</text>
<text x="999.9" y="469.32" font-size="11.3">NE</text>
<text x="999.9" y="449.45" font-size="11.3">E</text>
<text x="999.9" y="429.57" font-size="11.3">SE</text>
<text x="999.9" y="409.7" font-size="11.3">S</text>
<text x="999.9" y="389.82" font-size="11.3">SW</text>
<text x="999.9" y="369.95" font-size="11.3">W</text>
<text x="999.9" y="350.07" font-size="11.3">NW</text>
<text x="999.9" y="330.2" font-size="11.3">N</text>
<text transform="translate(533.2 406) rotate(-90)" font-size="14.0" text-anchor="middle">degrees</text>
<path d="M96.91 560.1V719.1M132.36 560.1V719.1M167.8 560.1V719.1M203.25 560.1V719.1M238.7 560.1V719.1M274.15 560.1V719.1M309.6 560.1V719.1M345.04 560.1V719.1M380.49 560.1V719.1M415.94 560.1V719.1M451.39 560.1V719.1M61.5 703.27H486.5M61.5 687.34H486.5M61.5 671.42H486.5M61.5 655.49H486.5M61.5 639.57H486.5M61.5 623.65H486.5M61.5 607.72H486.5M61.5 591.8H486.5M61.5 575.87H486.5" stroke="#000" stroke-width="0.37" fill="none"/>
<path d="M61.13 560.1H486.87M61.13 719.1H486.87M61.5 559.73V719.47M486.5 559.73V719.47" stroke="#000" stroke-width="0.74" fill="none"/>
<path d="M61.5 719.1L486.5 719.1" stroke="#ff0000" stroke-width="1.0" fill="none" stroke-linejoin="miter" stroke-miterlimit="6"/>
<text x="274" y="547.9" font-size="15.8" text-anchor="middle" textLength="305.6" lengthAdjust="spacing">24 hour Accumulated Rainfall or Snow Melt</text>
<text x="61.2" y="734.3" font-size="11.6" text-anchor="middle">0</text>
<text x="96.62" y="734.3" font-size="11.6" text-anchor="middle">2</text>
<text x="132.03" y="734.3" font-size="11.6" text-anchor="middle">4</text>
<text x="167.45" y="734.3" font-size="11.6" text-anchor="middle">6</text>
<text x="202.87" y="734.3" font-size="11.6" text-anchor="middle">8</text>
<text x="238.28" y="734.3" font-size="11.6" text-anchor="middle">10</text>
<text x="273.7" y="734.3" font-size="11.6" text-anchor="middle">12</text>
<text x="309.12" y="734.3" font-size="11.6" text-anchor="middle">14</text>
<text x="344.53" y="734.3" font-size="11.6" text-anchor="middle">16</text>
<text x="379.95" y="734.3" font-size="11.6" text-anchor="middle">18</text>
<text x="415.37" y="734.3" font-size="11.6" text-anchor="middle">20</text>
<text x="450.78" y="734.3" font-size="11.6" text-anchor="middle">22</text>
<text x="486.2" y="734.3" font-size="11.6" text-anchor="middle">24</text>
<text x="55.2" y="723.2" font-size="11.6" text-anchor="end">0.0</text>
<text x="55.2" y="707.3" font-size="11.6" text-anchor="end">0.01</text>
<text x="55.2" y="691.4" font-size="11.6" text-anchor="end">0.02</text>
<text x="55.2" y="675.5" font-size="11.6" text-anchor="end">0.03</text>
<text x="55.2" y="659.6" font-size="11.6" text-anchor="end">0.04</text>
<text x="55.2" y="643.7" font-size="11.6" text-anchor="end">0.05</text>
<text x="55.2" y="627.8" font-size="11.6" text-anchor="end">0.06</text>
<text x="55.2" y="611.9" font-size="11.6" text-anchor="end">0.07</text>
<text x="55.2" y="596" font-size="11.6" text-anchor="end">0.08</text>
<text x="55.2" y="580.1" font-size="11.6" text-anchor="end">0.09</text>
<text x="55.2" y="564.2" font-size="11.6" text-anchor="end">0.1</text>
<text transform="translate(26 639.6) rotate(-90)" font-size="14.0" text-anchor="middle">Inches</text>
<text x="274" y="752.5" font-size="16" text-anchor="middle">Local Time (hour)</text>
<path d="M603.61 560.1V719.1M639.06 560.1V719.1M674.5 560.1V719.1M709.95 560.1V719.1M745.4 560.1V719.1M780.85 560.1V719.1M816.3 560.1V719.1M851.74 560.1V719.1M887.19 560.1V719.1M922.64 560.1V719.1M958.09 560.1V719.1M568.2 701.5H993.5M568.2 683.8H993.5M568.2 666.11H993.5M568.2 648.42H993.5M568.2 630.72H993.5M568.2 613.03H993.5M568.2 595.34H993.5M568.2 577.64H993.5" stroke="#000" stroke-width="0.37" fill="none"/>
<path d="M567.83 560.1H993.87M567.83 719.1H993.87M568.2 559.73V719.47M993.5 559.73V719.47" stroke="#000" stroke-width="0.74" fill="none"/>
<path d="M568.2 719.1L697.11 718.91L699.65 717.9L703.19 714.05L706.73 709.8L709.27 704.73L711.29 699.16L713.32 695.82L715.34 695.42L716.35 697.65L717.16 706.76L717.87 708.28L718.89 705.75L719.9 690.56L721.42 686.51L723.95 683.97L726.28 684.28L728.51 680.94L732.05 674.86L734.08 666.25L734.78 661.19L736.41 659.97L737.62 674.35L739.14 667.77L740.46 659.67L741.87 659.67L743.19 664.23L744.71 676.38L746.23 680.94L748.76 683.47L751.29 686L752.81 685.29L754.33 686.51L755.65 668.78L757.06 664.73L758.38 672.84L760.41 674.56L761.72 673.34L762.94 678.2L764.15 677.9L765.67 658.68L767.19 650.08L769.22 645.01L770.43 624.76L771.75 633.37L773.27 646.53L774.78 673.37L776.3 673.87L777.32 648.56L779.34 639.95L781.37 619.19L782.38 610.89L783.59 618.18L784.61 647.54L785.62 664.76L786.63 672.86L788.25 670.33L789.27 647.54L790.99 639.95L792.51 651.59L794.33 654.63L795.54 677.92L796.1 679.42L798.13 683.47L798.94 676.38L799.95 664.73L800.96 673.34L802.38 679.42L804.41 676.38L806.73 686.51L808.25 690.05L810.78 688.33L812.81 688.33L815.34 692.58L817.37 694.41L818.89 694.1L820.41 690.05L822.43 681.95L823.95 661.19L824.96 655.11L826.28 658.15L827.7 671.32L829.32 692.08L830.53 673.34L831.34 673.34L832.35 690.56L833.77 701.7L835.39 699.16L837.62 702.2L840.66 704.94L844.71 706.56L846.73 704.94L848.56 701.49L849.97 705.75L851.8 711.62L854.33 711.32L857.37 710L860.91 712.84L863.95 716.08L866.48 716.68L869.01 718.1L871.54 718.81L992.08 719.1" stroke="#ff0000" stroke-width="1.0" fill="none" stroke-linejoin="miter" stroke-miterlimit="6"/>
<text x="780.85" y="547.9" font-size="15.8" text-anchor="middle">Solar Irradiance</text>
<text x="567.9" y="734.3" font-size="11.6" text-anchor="middle">0</text>
<text x="603.34" y="734.3" font-size="11.6" text-anchor="middle">2</text>
<text x="638.78" y="734.3" font-size="11.6" text-anchor="middle">4</text>
<text x="674.23" y="734.3" font-size="11.6" text-anchor="middle">6</text>
<text x="709.67" y="734.3" font-size="11.6" text-anchor="middle">8</text>
<text x="745.11" y="734.3" font-size="11.6" text-anchor="middle">10</text>
<text x="780.55" y="734.3" font-size="11.6" text-anchor="middle">12</text>
<text x="815.99" y="734.3" font-size="11.6" text-anchor="middle">14</text>
<text x="851.43" y="734.3" font-size="11.6" text-anchor="middle">16</text>
<text x="886.88" y="734.3" font-size="11.6" text-anchor="middle">18</text>
<text x="922.32" y="734.3" font-size="11.6" text-anchor="middle">20</text>
<text x="957.76" y="734.3" font-size="11.6" text-anchor="middle">22</text>
<text x="993.2" y="734.3" font-size="11.6" text-anchor="middle">24</text>
<text x="560.9" y="723.2" font-size="11.6" text-anchor="end">0</text>
<text x="560.9" y="705.53" font-size="11.6" text-anchor="end">100</text>
<text x="560.9" y="687.87" font-size="11.6" text-anchor="end">200</text>
<text x="560.9" y="670.2" font-size="11.6" text-anchor="end">300</text>
<text x="560.9" y="652.53" font-size="11.6" text-anchor="end">400</text>
<text x="560.9" y="634.87" font-size="11.6" text-anchor="end">500</text>
<text x="560.9" y="617.2" font-size="11.6" text-anchor="end">600</text>
<text x="560.9" y="599.53" font-size="11.6" text-anchor="end">700</text>
<text x="560.9" y="581.87" font-size="11.6" text-anchor="end">800</text>
<text x="560.9" y="564.2" font-size="11.6" text-anchor="end">900</text>
<text transform="translate(535.9 639.6) rotate(-90)" font-size="14.0" text-anchor="middle">W/m<tspan dy="-8" font-size="10">2</tspan></text>
</svg>
</body></html>
